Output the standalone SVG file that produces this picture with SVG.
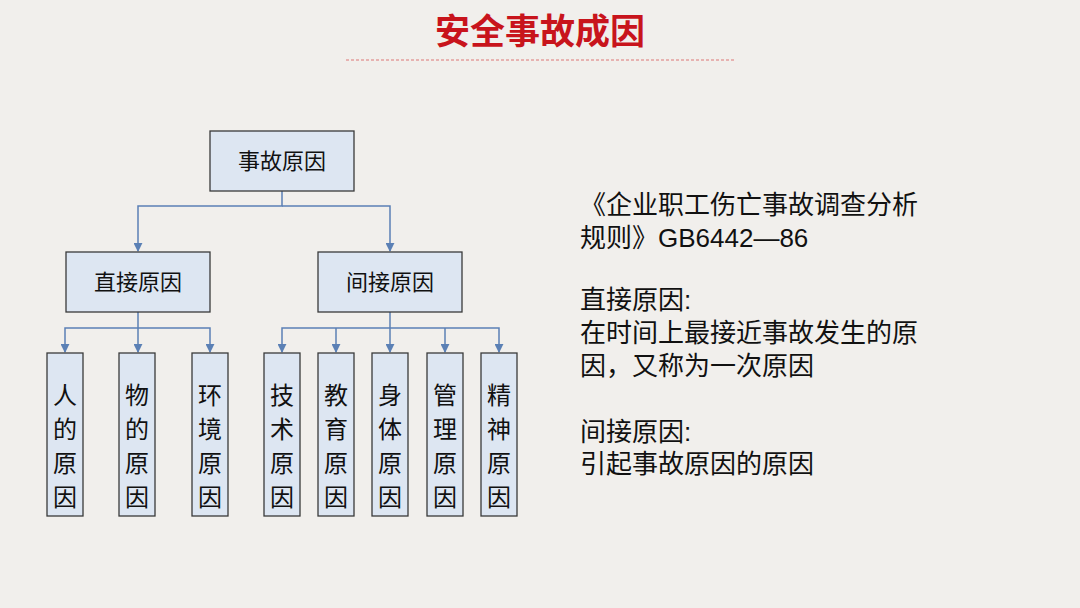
<svg xmlns="http://www.w3.org/2000/svg" width="1080" height="608" viewBox="0 0 1080 608">
<defs>
<style>
.b{fill:#dde6f2;stroke:#3a3a3a;stroke-width:1.3}
.t{font-family:"Liberation Serif","Noto Sans CJK SC",serif;font-size:22px;fill:#111;text-anchor:middle}
.v{font-family:"Liberation Serif","Noto Sans CJK SC",serif;font-size:24px;fill:#111;text-anchor:middle}
.c{fill:none;stroke:#5b80b5;stroke-width:1.5}
.r{font-family:"Liberation Sans","Noto Sans CJK SC",sans-serif;font-size:26px;fill:#111}
</style>
<marker id="a" viewBox="0 0 10 10" refX="9" refY="5" markerWidth="6" markerHeight="6" orient="auto"><path d="M0,0L10,5L0,10z" fill="#5b80b5"/></marker>
</defs>
<rect width="1080" height="608" fill="#f1efec"/>
<text x="540" y="44" font-family="'Noto Sans CJK SC',sans-serif" font-weight="bold" font-size="35" fill="#c8141c" text-anchor="middle">安全事故成因</text>
<line x1="346" y1="60" x2="734" y2="60" stroke="#d77" stroke-width="1" stroke-dasharray="3,2"/>
<g id="connectors">
<path class="c" d="M282,191V206H138V251" marker-end="url(#a)"/>
<path class="c" d="M282,206H390V251" marker-end="url(#a)"/>
<path class="c" d="M138,312V352" marker-end="url(#a)"/>
<path class="c" d="M138,328H65V352" marker-end="url(#a)"/>
<path class="c" d="M138,328H210V352" marker-end="url(#a)"/>
<path class="c" d="M390,312V352" marker-end="url(#a)"/>
<path class="c" d="M390,328H282V352" marker-end="url(#a)"/>
<path class="c" d="M336,328V352" marker-end="url(#a)"/>
<path class="c" d="M390,328H499V352" marker-end="url(#a)"/>
<path class="c" d="M445,328V352" marker-end="url(#a)"/>
</g>
<g id="root"><rect class="b" x="210" y="131" width="144" height="60"/><text class="t" x="282" y="169">事故原因</text></g>
<g id="direct"><rect class="b" x="66" y="252" width="144" height="60"/><text class="t" x="138" y="290">直接原因</text></g>
<g id="indirect"><rect class="b" x="318" y="252" width="144" height="60"/><text class="t" x="390" y="290">间接原因</text></g>
<g id="n1"><rect class="b" x="47" y="353" width="36" height="163"/><text class="v"><tspan x="65" y="404">人</tspan><tspan x="65" y="438">的</tspan><tspan x="65" y="472">原</tspan><tspan x="65" y="506">因</tspan></text></g>
<g id="n2"><rect class="b" x="119" y="353" width="36" height="163"/><text class="v"><tspan x="137" y="404">物</tspan><tspan x="137" y="438">的</tspan><tspan x="137" y="472">原</tspan><tspan x="137" y="506">因</tspan></text></g>
<g id="n3"><rect class="b" x="192" y="353" width="36" height="163"/><text class="v"><tspan x="210" y="404">环</tspan><tspan x="210" y="438">境</tspan><tspan x="210" y="472">原</tspan><tspan x="210" y="506">因</tspan></text></g>
<g id="n4"><rect class="b" x="264" y="353" width="36" height="163"/><text class="v"><tspan x="282" y="404">技</tspan><tspan x="282" y="438">术</tspan><tspan x="282" y="472">原</tspan><tspan x="282" y="506">因</tspan></text></g>
<g id="n5"><rect class="b" x="318" y="353" width="36" height="163"/><text class="v"><tspan x="336" y="404">教</tspan><tspan x="336" y="438">育</tspan><tspan x="336" y="472">原</tspan><tspan x="336" y="506">因</tspan></text></g>
<g id="n6"><rect class="b" x="372" y="353" width="36" height="163"/><text class="v"><tspan x="390" y="404">身</tspan><tspan x="390" y="438">体</tspan><tspan x="390" y="472">原</tspan><tspan x="390" y="506">因</tspan></text></g>
<g id="n7"><rect class="b" x="427" y="353" width="36" height="163"/><text class="v"><tspan x="445" y="404">管</tspan><tspan x="445" y="438">理</tspan><tspan x="445" y="472">原</tspan><tspan x="445" y="506">因</tspan></text></g>
<g id="n8"><rect class="b" x="481" y="353" width="36" height="163"/><text class="v"><tspan x="499" y="404">精</tspan><tspan x="499" y="438">神</tspan><tspan x="499" y="472">原</tspan><tspan x="499" y="506">因</tspan></text></g>
<g id="desc">
<text class="r" x="580" y="214">《企业职工伤亡事故调查分析</text>
<text class="r" x="580" y="247">规则》GB6442—86</text>
<text class="r" x="580" y="309">直接原因:</text>
<text class="r" x="580" y="342">在时间上最接近事故发生的原</text>
<text class="r" x="580" y="375">因，又称为一次原因</text>
<text class="r" x="580" y="441">间接原因:</text>
<text class="r" x="580" y="473">引起事故原因的原因</text>
</g>
</svg>
